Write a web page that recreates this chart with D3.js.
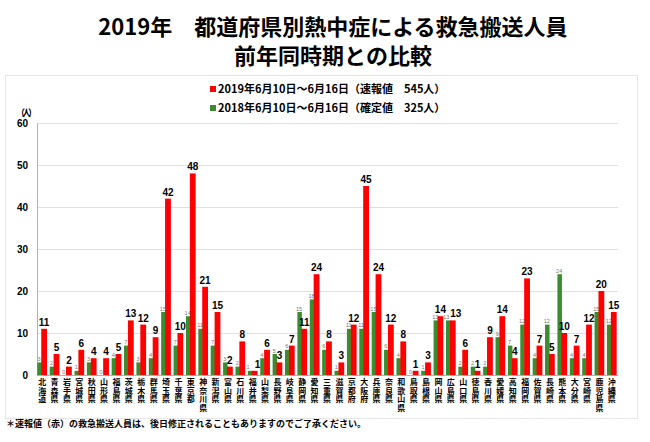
<!DOCTYPE html>
<html><head><meta charset="utf-8">
<script src="https://cdn.jsdelivr.net/npm/d3@7"></script>
<style>
html,body{margin:0;padding:0;background:#fff;}
svg{display:block;font-family:"Noto Sans CJK JP","Noto Sans",sans-serif;}
.vlab{writing-mode:vertical-rl;text-orientation:upright;}
</style></head>
<body>
<svg id="c" width="650" height="442"></svg>
<script>
const prefectures = ["北海道","青森県","岩手県","宮城県","秋田県","山形県","福島県","茨城県","栃木県","群馬県","埼玉県","千葉県","東京都","神奈川県","新潟県","富山県","石川県","福井県","山梨県","長野県","岐阜県","静岡県","愛知県","三重県","滋賀県","京都府","大阪府","兵庫県","奈良県","和歌山県","鳥取県","島根県","岡山県","広島県","山口県","徳島県","香川県","愛媛県","高知県","福岡県","佐賀県","長崎県","熊本県","大分県","宮崎県","鹿児島県","沖縄県"];
const values2019 = [11,5,2,6,4,4,5,13,12,9,42,10,48,21,15,2,8,1,6,3,7,11,24,8,3,12,45,24,12,8,1,3,14,13,6,1,9,14,4,23,7,5,10,7,12,20,15];
const values2018 = [3,2,0,1,3,0,4,7,3,4,15,7,14,11,7,3,2,1,4,5,6,15,18,6,1,11,11,15,6,4,0,1,13,13,2,2,2,9,7,12,4,12,24,4,4,15,12];
const yTicks = [0,10,20,30,40,50,60];
const titleLines = ["2019年　都道府県別熱中症による救急搬送人員","前年同時期との比較"];
const legendLabels = ["2019年6月10日～6月16日（速報値　545人）","2018年6月10日～6月16日（確定値　325人）"];
const footnote = "＊速報値（赤）の救急搬送人員は、後日修正されることもありますのでご了承ください。";

const RED = "#ff0000", GREEN = "#3d8b2f";
const svg = d3.select("#c");

// outer box
svg.append("rect").attr("x",5.5).attr("y",75.5).attr("width",632).attr("height",343)
  .attr("fill","none").attr("stroke","#e6e6e6").attr("stroke-width",1);

// title
svg.selectAll("text.title").data(titleLines).join("text").attr("class","title")
  .attr("x",333).attr("y",(d,i)=>35+i*29).attr("text-anchor","middle")
  .attr("font-size",22).attr("font-weight","bold").attr("fill","#000").text(d=>d);

// legend
const lg = svg.selectAll("g.lg").data(legendLabels).join("g").attr("class","lg")
  .attr("transform",(d,i)=>`translate(210,${89+i*19})`);
lg.append("rect").attr("x",0).attr("y",-3).attr("width",6).attr("height",6)
  .attr("fill",(d,i)=>i===0?RED:GREEN);
lg.append("text").attr("x",8).attr("y",4).attr("font-size",11).attr("font-weight","bold").text(d=>d);

// scales
const x = d3.scaleBand().domain(prefectures).range([36,618]).padding(0);
const y = d3.scaleLinear().domain([0,60]).range([375,123]);

// grid
svg.append("g").selectAll("line").data(yTicks.filter(t=>t>0)).join("line")
  .attr("x1",37).attr("x2",618).attr("y1",d=>y(d)+0.5).attr("y2",d=>y(d)+0.5)
  .attr("stroke","#e0e0e0").attr("stroke-width",1);

// y axis
const yAxis = svg.append("g").attr("transform","translate(37,0)")
  .call(d3.axisLeft(y).tickValues(yTicks).tickSize(0).tickPadding(9));
yAxis.select(".domain").attr("stroke","#b0b0b0");
yAxis.selectAll("text").attr("font-size",10).attr("font-weight","bold").attr("fill","#000")
  .attr("font-family","'Liberation Sans','Noto Sans',sans-serif");
svg.append("text").attr("x",25).attr("y",116).attr("text-anchor","middle")
  .attr("font-size",9).attr("font-weight","bold").attr("letter-spacing",-3).text("（人）");

// baseline
svg.append("line").attr("x1",37).attr("x2",618).attr("y1",375.5).attr("y2",375.5)
  .attr("stroke","#b0b0b0");

const gw = 4.5, rw = 5.8;
const off = (d)=> x(d) + x.bandwidth()/2 - (gw+rw-0.6)/2;
const same = i => values2019[i]===values2018[i];

// bars
svg.append("g").selectAll("rect").data(prefectures).join("rect")
  .attr("x",d=>off(d)).attr("width",gw)
  .attr("y",(d,i)=>y(values2018[i])).attr("height",(d,i)=>y(0)-y(values2018[i]))
  .attr("fill",GREEN);
svg.append("g").selectAll("rect").data(prefectures).join("rect")
  .attr("x",d=>off(d)+gw-0.6).attr("width",rw)
  .attr("y",(d,i)=>y(values2019[i])).attr("height",(d,i)=>y(0)-y(values2019[i]))
  .attr("fill",RED);

// value labels
svg.append("g").selectAll("text").data(prefectures).join("text")
  .attr("x",(d,i)=>off(d)+gw/2-0.5-(same(i)?1.5:0)).attr("y",(d,i)=>y(values2018[i])-1.5)
  .attr("text-anchor","middle").attr("font-size",5.5).attr("fill","#777")
  .attr("font-family","'Liberation Sans',sans-serif")
  .text((d,i)=>values2018[i]);
svg.append("g").selectAll("text").data(prefectures).join("text")
  .attr("x",(d,i)=>off(d)+gw-0.6+rw/2+(same(i)?3:0))
  .attr("y",(d,i)=>y(values2019[i])-3)
  .attr("text-anchor","middle").attr("font-size",10).attr("font-weight","bold").attr("fill","#000")
  .attr("font-family","'Liberation Sans',sans-serif")
  .text((d,i)=>values2019[i]);

// x labels (vertical text)
svg.append("g").selectAll("text").data(prefectures).join("text")
  .attr("class","vlab")
  .attr("x",d=>x(d)+x.bandwidth()/2).attr("y",378)
  .attr("font-size",8).attr("font-weight","bold").attr("fill","#000")
  .attr("letter-spacing",0.6)
  .text(d=>d);

// footnote
svg.append("text").attr("x",6).attr("y",427).attr("font-size",9).attr("font-weight","bold").text(footnote);
</script>
</body></html>
